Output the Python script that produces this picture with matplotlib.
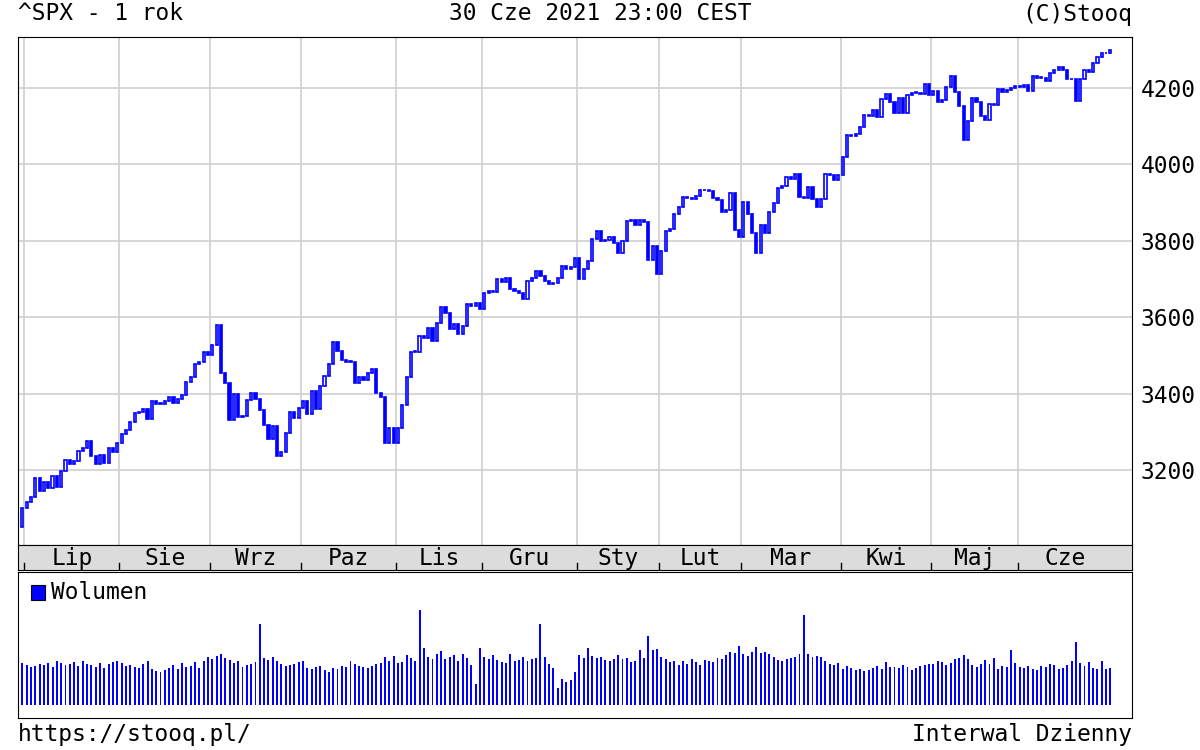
import numpy as np
import matplotlib.pyplot as plt
from matplotlib.patches import Rectangle

# daily closes, 30 Jun 2020 .. 30 Jun 2021 (approx.)
c_jun20 = [3100]
c_jul = [3116, 3130, 3180, 3145, 3169, 3153, 3185, 3155, 3197, 3227, 3215, 3225, 3251, 3257, 3277, 3236, 3216, 3239, 3218, 3258, 3246, 3271]
c_aug = [3295, 3306, 3327, 3349, 3351, 3360, 3333, 3380, 3373, 3373, 3381, 3390, 3375, 3385, 3397, 3431, 3443, 3478, 3484, 3508, 3500]
c_sep = [3527, 3580, 3455, 3427, 3331, 3399, 3339, 3341, 3383, 3401, 3385, 3357, 3319, 3281, 3315, 3237, 3247, 3298, 3351, 3335, 3363]
c_oct = [3380, 3348, 3408, 3361, 3419, 3446, 3477, 3534, 3512, 3488, 3483, 3484, 3427, 3443, 3435, 3453, 3465, 3401, 3391, 3271, 3310, 3270]
c_nov = [3310, 3370, 3443, 3510, 3509, 3550, 3545, 3572, 3537, 3585, 3627, 3610, 3568, 3582, 3557, 3578, 3635, 3630, 3638, 3622]
c_dec = [3662, 3669, 3666, 3699, 3692, 3702, 3673, 3668, 3663, 3647, 3695, 3702, 3722, 3709, 3694, 3687, 3690, 3703, 3735, 3727, 3732, 3756]
c_jan = [3701, 3726, 3748, 3804, 3825, 3799, 3801, 3809, 3795, 3768, 3798, 3852, 3853, 3841, 3855, 3849, 3750, 3787, 3714]
c_feb = [3774, 3826, 3830, 3871, 3887, 3915, 3911, 3910, 3916, 3934, 3932, 3931, 3913, 3906, 3876, 3881, 3925, 3829, 3811]
c_mar = [3901, 3871, 3820, 3768, 3841, 3821, 3875, 3898, 3939, 3943, 3968, 3962, 3974, 3915, 3913, 3940, 3910, 3889, 3909, 3974, 3971, 3958, 3972]
c_apr = [4019, 4077, 4073, 4079, 4097, 4128, 4127, 4141, 4124, 4170, 4185, 4163, 4134, 4173, 4134, 4180, 4187, 4186, 4183, 4211, 4181]
c_may = [4192, 4164, 4167, 4201, 4232, 4188, 4152, 4063, 4112, 4173, 4163, 4127, 4115, 4159, 4156, 4197, 4188, 4195, 4200, 4204]
c_jun = [4202, 4208, 4192, 4230, 4226, 4227, 4219, 4239, 4247, 4255, 4246, 4223, 4222, 4166, 4224, 4246, 4242, 4266, 4281, 4290, 4291, 4298]

# volume, billions (approx.)
v_jun20 = [4.4]
v_jul = [4.2, 4.0, 4.1, 4.3, 4.2, 4.4, 4.0, 4.6, 4.4, 4.2, 4.3, 4.5, 4.1, 4.6, 4.3, 4.2, 4.0, 4.4, 3.9, 4.3, 4.5, 4.6]
v_aug = [4.4, 4.1, 4.2, 4.0, 3.9, 4.3, 4.6, 3.8, 3.6, 3.5, 3.7, 3.9, 4.2, 3.8, 4.4, 4.0, 4.1, 4.5, 3.9, 4.6, 5.0]
v_sep = [4.8, 5.1, 5.3, 4.9, 4.7, 4.4, 4.6, 4.0, 4.2, 4.3, 4.5, 8.5, 4.9, 4.7, 5.0, 4.6, 4.3, 4.1, 4.2, 4.3, 4.5]
v_oct = [4.6, 3.9, 3.8, 4.0, 4.1, 3.7, 3.5, 3.9, 3.8, 4.1, 4.0, 4.6, 4.3, 4.1, 4.0, 3.9, 4.1, 4.3, 4.4, 5.0, 4.6, 5.1]
v_nov = [4.4, 4.5, 5.2, 4.9, 4.6, 10.0, 6.0, 5.0, 4.8, 5.4, 5.7, 4.8, 5.0, 5.2, 4.6, 5.3, 4.9, 4.2, 2.2, 6.0]
v_dec = [5.0, 4.8, 5.2, 4.7, 4.5, 4.4, 5.3, 4.6, 4.7, 5.0, 4.6, 4.8, 4.9, 8.5, 5.0, 4.3, 3.9, 1.8, 2.7, 2.4, 2.6, 3.4]
v_jan = [5.2, 4.9, 6.0, 5.1, 4.9, 5.0, 4.7, 4.6, 4.8, 5.2, 4.8, 4.9, 4.5, 4.6, 5.8, 4.9, 7.2, 5.8, 5.9]
v_feb = [5.0, 4.8, 4.5, 4.6, 4.2, 4.6, 4.3, 4.8, 4.5, 4.2, 4.7, 4.6, 4.5, 4.9, 4.8, 5.2, 5.6, 5.5, 6.2]
v_mar = [5.4, 5.1, 5.6, 6.1, 5.5, 5.6, 5.3, 5.0, 4.7, 4.6, 4.8, 4.9, 5.0, 5.4, 9.5, 5.4, 5.0, 5.1, 5.0, 4.6, 4.3, 4.2, 4.4]
v_apr = [3.8, 4.1, 3.9, 3.7, 3.8, 3.6, 3.7, 3.9, 4.1, 3.8, 4.5, 4.0, 4.0, 3.9, 4.2, 4.0, 3.7, 3.9, 4.1, 4.2, 4.3]
v_may = [4.3, 4.6, 4.5, 4.2, 4.4, 4.8, 4.9, 5.2, 4.8, 4.2, 4.0, 4.3, 4.7, 4.3, 4.9, 3.8, 4.1, 4.0, 5.8, 4.4]
v_jun = [4.0, 3.9, 4.1, 3.8, 3.7, 4.1, 4.0, 4.3, 4.2, 3.8, 3.9, 4.2, 4.6, 6.6, 4.4, 4.1, 4.5, 3.9, 3.8, 4.6, 3.8, 3.9]

months = ["Lip", "Sie", "Wrz", "Paz", "Lis", "Gru", "Sty", "Lut", "Mar", "Kwi", "Maj", "Cze"]
close_months = [c_jul, c_aug, c_sep, c_oct, c_nov, c_dec, c_jan, c_feb, c_mar, c_apr, c_may, c_jun]
vol_months = [v_jul, v_aug, v_sep, v_oct, v_nov, v_dec, v_jan, v_feb, v_mar, v_apr, v_may, v_jun]
first_open = 3050

closes = np.array(c_jun20 + sum(close_months, []), dtype=float)
vols = np.array(v_jun20 + sum(vol_months, []), dtype=float)
opens = np.concatenate([[first_open], closes[:-1]])
x = np.arange(len(closes))

# month boundaries
starts = [1]
for m in close_months[:-1]:
    starts.append(starts[-1] + len(m))
ends = starts[1:] + [len(closes)]
mids = [(s + e - 1) / 2 for s, e in zip(starts, ends)]

blue = "#0000ff"
grid = "#d0d0d0"
fs = 16.5
plt.rcParams["font.family"] = "DejaVu Sans Mono"

W, H = 1200, 750
fig = plt.figure(figsize=(12, 7.5), dpi=100)
def ax_px(l, t, r, b):
    return fig.add_axes([l / W, 1 - b / H, (r - l) / W, (b - t) / H])

xl = (-1, 257)
ax = ax_px(18, 37, 1132, 545)
ax.set_xlim(*xl)
ax.set_ylim(3004, 4333)
for xi, o, c in zip(x, opens, closes):
    lo, hi = min(o, c), max(o, c)
    face = "white" if c >= o else blue
    ax.add_patch(Rectangle((xi - 0.25, lo), 0.5, max(hi - lo, 2), facecolor=face,
                           edgecolor=blue, linewidth=1.2, zorder=3))
ax.set_yticks([3200, 3400, 3600, 3800, 4000, 4200])
ax.yaxis.tick_right()
ax.tick_params(axis="y", length=0, labelsize=fs, pad=6)
ax.set_xticks([s - 0.5 for s in starts])
ax.tick_params(axis="x", length=0, labelbottom=False)
ax.grid(True, color=grid, linewidth=1.2)
ax.set_axisbelow(True)

strip = ax_px(18, 545, 1132, 570)
strip.set_xlim(*xl)
strip.set_ylim(0, 1)
strip.set_facecolor("#dcdcdc")
strip.set_xticks([])
strip.set_yticks([])
for m, p, s in zip(months, mids, starts):
    strip.text(p, 0.45, m, ha="center", va="center", fontsize=fs)
    strip.axvline(s - 0.5, ymax=0.3, color="black", linewidth=1)

vax = ax_px(18, 572, 1132, 718)
vax.set_xlim(*xl)
vax.set_ylim(-1.4, 14)
vax.bar(x, vols, width=0.45, color=blue, bottom=0)
vax.set_xticks([])
vax.set_yticks([])
vax.add_patch(Rectangle((0.012, 0.81), 0.012, 0.1, transform=vax.transAxes,
                        facecolor=blue, edgecolor="black", linewidth=0.8))
vax.text(0.03, 0.86, "Wolumen", transform=vax.transAxes, fontsize=fs, va="center")

fig.text(18 / W, 1 - 14 / H, "^SPX - 1 rok", fontsize=fs, va="center")
fig.text(0.5, 1 - 14 / H, "30 Cze 2021 23:00 CEST", fontsize=fs, va="center", ha="center")
fig.text(1132 / W, 1 - 14 / H, "(C)Stooq", fontsize=fs, va="center", ha="right")
fig.text(18 / W, 1 - 735 / H, "https://stooq.pl/", fontsize=fs, va="center")
fig.text(1132 / W, 1 - 735 / H, "Interwal Dzienny", fontsize=fs, va="center", ha="right")

fig.savefig("out.png", dpi=100)
